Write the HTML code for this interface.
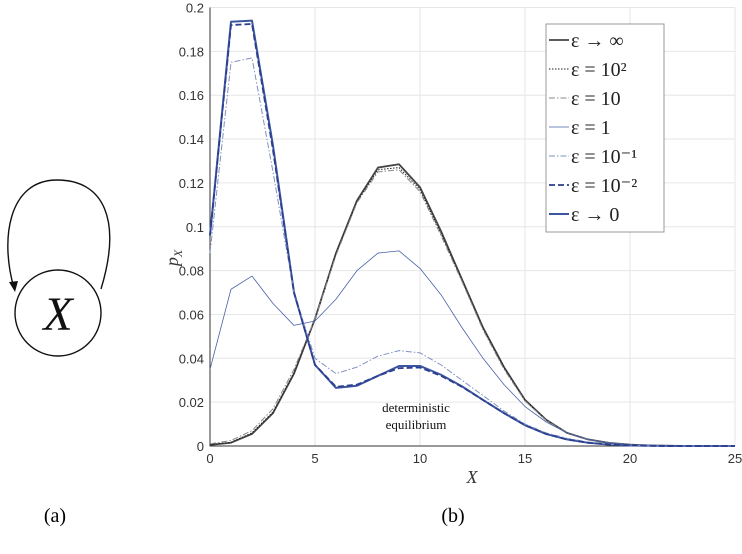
<!DOCTYPE html>
<html><head><meta charset="utf-8"><style>
body{margin:0;background:#fff;}
svg{display:block;font-family:"Liberation Serif",serif;}
</style></head><body>
<svg width="742" height="554">
<g>
<circle cx="58" cy="313" r="43" fill="none" stroke="#111" stroke-width="1.4"/>
<text x="58" y="330" font-size="48" font-style="italic" text-anchor="middle" fill="#111">X</text>
<path d="M101,289 C122,220 104,180 57,180 C8,180 0,240 14,288" fill="none" stroke="#111" stroke-width="1.4"/>
<path d="M9,282 L15,292 L18,281 Z" fill="#111"/>
</g>
<text x="55" y="522" font-size="20" text-anchor="middle">(a)</text>
<text x="453" y="522" font-size="20" text-anchor="middle">(b)</text>
<g id="chart"></g>
</svg>
<script>
const xTicks=[0,5,10,15,20,25];
const yTicks=[0,0.02,0.04,0.06,0.08,0.1,0.12,0.14,0.16,0.18,0.2];
const yTickLabels=["0","0.02","0.04","0.06","0.08","0.1","0.12","0.14","0.16","0.18","0.2"];
const xs=[0,1,2,3,4,5,6,7,8,9,10,11,12,13,14,15,16,17,18,19,20,21,22,23,24,25];
const sInf=[0.0005,0.0015,0.0055,0.015,0.033,0.058,0.088,0.112,0.127,0.1285,0.118,0.098,0.076,0.054,0.036,0.021,0.012,0.006,0.003,0.0014,0.0006,0.0002,0.0001,0,0,0];
const s100=[0.0006,0.0017,0.006,0.0155,0.0335,0.058,0.0878,0.1115,0.126,0.127,0.117,0.097,0.0755,0.0537,0.0358,0.021,0.012,0.006,0.003,0.0014,0.0006,0.0002,0.0001,0,0,0];
const s10=[0.001,0.0025,0.007,0.017,0.035,0.058,0.087,0.111,0.125,0.126,0.116,0.096,0.075,0.053,0.035,0.0205,0.0118,0.006,0.003,0.0014,0.0006,0.0002,0.0001,0,0,0];
const s1=[0.035,0.0715,0.0775,0.065,0.055,0.057,0.067,0.080,0.088,0.089,0.081,0.069,0.054,0.040,0.028,0.018,0.011,0.006,0.003,0.0014,0.0006,0.0002,0.0001,0,0,0];
const s01=[0.088,0.175,0.177,0.125,0.07,0.04,0.033,0.036,0.041,0.0435,0.0425,0.037,0.030,0.023,0.016,0.010,0.006,0.0035,0.0018,0.0008,0.0003,0.0001,0,0,0,0];
const s001=[0.096,0.192,0.1925,0.135,0.07,0.037,0.027,0.028,0.032,0.0355,0.0358,0.032,0.027,0.021,0.015,0.0095,0.0055,0.003,0.0015,0.0007,0.0003,0.0001,0,0,0,0];
const s0=[0.096,0.1935,0.194,0.137,0.07,0.037,0.0265,0.0275,0.032,0.0365,0.0365,0.0325,0.0272,0.021,0.015,0.0095,0.0055,0.003,0.0015,0.0007,0.0003,0.0001,0,0,0,0];
const seriesNames=["ε → ∞","ε = 10²","ε = 10","ε = 1","ε = 10⁻¹","ε = 10⁻²","ε → 0"];
const L=210,R=735,T=7.5,B=446;
const xS=v=>L+(v-0)/(25-0)*(R-L);
const yS=v=>B-(v/0.2)*(B-T);
const NS="http://www.w3.org/2000/svg";
const g=document.getElementById('chart');
function mk(t,a,p){const e=document.createElementNS(NS,t);for(const k in a)e.setAttribute(k,a[k]);(p||g).appendChild(e);return e;}
xTicks.forEach(v=>{const l=mk('line',{x1:xS(v),x2:xS(v),y1:T,y2:B,stroke:'#e6e6e6','stroke-width':1});


const t=mk('text',{x:xS(v),y:B+17,'font-size':13,'text-anchor':'middle',fill:'#333','font-family':'Liberation Sans,sans-serif'});t.textContent=v;

});
yTicks.forEach((v,i)=>{const l=mk('line',{x1:L,x2:R,y1:yS(v),y2:yS(v),stroke:'#e6e6e6','stroke-width':1});


const t=mk('text',{x:L-6,y:yS(v)+5,'font-size':13,'text-anchor':'end',fill:'#333','font-family':'Liberation Sans,sans-serif'});t.textContent=yTickLabels[i];

});
const ax=mk('path',{d:`M${L},${T}V${B}H${R}`,fill:'none',stroke:'#333','stroke-width':1});


const styles=[
 {c:'#444',w:1.8,d:''},{c:'#222',w:1,d:'1.5,1.5'},{c:'#888',w:1,d:'6,2,1.5,2'},
 {c:'#4a62a8',w:0.8,d:''},{c:'#8090c0',w:1,d:'6,2,1.5,2'},{c:'#2c3f8f',w:1.8,d:'6,3'},{c:'#3b55a0',w:2,d:''}];
const data=[sInf,s100,s10,s1,s01,s001,s0];
const order=[0,1,2,3,6,4,5];
order.forEach(i=>{const s=styles[i];
const p=mk('polyline',{points:xs.map((x,j)=>xS(x)+','+yS(data[i][j])).join(' '),fill:'none',stroke:s.c,'stroke-width':s.w,'stroke-dasharray':s.d,'stroke-linejoin':'round'});

});
const xl=mk('text',{x:472,y:483,'font-size':18,'font-style':'italic','text-anchor':'middle',fill:'#333'});xl.textContent='X';


const yl=mk('text',{x:0,y:0,'font-size':18,'font-style':'italic','text-anchor':'middle',fill:'#333',transform:'translate(178,258) rotate(-90)'});yl.innerHTML='p<tspan font-size="12" dy="4">X</tspan>';


['deterministic','equilibrium'].forEach((w,k)=>{const t=mk('text',{x:416,y:412+k*17,'font-size':13,'text-anchor':'middle',fill:'#111'});t.textContent=w;

});
const lg=mk('g',{});


mk('rect',{x:546,y:24,width:118,height:208,fill:'#fff',stroke:'#999','stroke-width':1},lg);
seriesNames.forEach((n,i)=>{const s=styles[i];const y=40+i*29;
const ln=mk('line',{x1:549,x2:569,y1:y,y2:y,stroke:s.c,'stroke-width':s.w,'stroke-dasharray':s.d},lg);


const t=mk('text',{x:571,y:y+7,'font-size':20,fill:'#222'},lg);t.textContent=n;

});
</script>
</body></html>
